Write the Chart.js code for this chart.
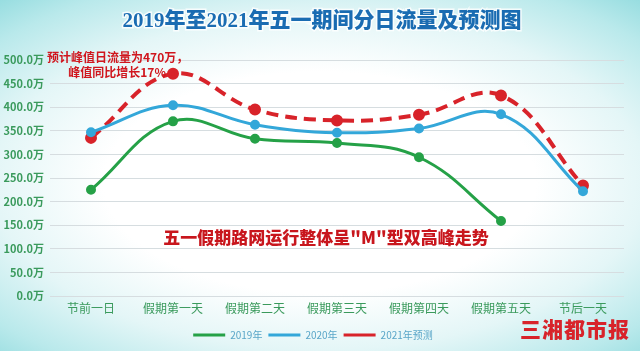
<!DOCTYPE html>
<html>
<head>
<meta charset="utf-8">
<script src="https://cdn.jsdelivr.net/npm/chart.js@4.4.1/dist/chart.umd.min.js"></script>
<style>
  html, body { margin: 0; padding: 0; }
  body {
    width: 640px; height: 351px; overflow: hidden; position: relative;
    background: radial-gradient(ellipse 75% 70% at 50% 52%, #ffffff 0%, #ffffff 45%, #e4f6f7 68%, #b9e9eb 88%, #97dde0 100%);
  }
  #wrap { position: absolute; left: 0; top: 0; width: 640px; height: 351px; }
  .logo {
    position: absolute; left: 520px; top: 318px;
    font-family: "Noto Sans CJK SC", sans-serif; font-weight: 900;
    font-size: 21px; color: #d8232a; letter-spacing: 1px; line-height: 1;
  }
</style>
</head>
<body>
<div id="wrap"><canvas id="chart" width="640" height="351"></canvas></div>
<div class="logo">三湘都市报</div>
<script>
// 2019-2021 May Day daily traffic (万)
const DAYS = ['节前一日','假期第一天','假期第二天','假期第三天','假期第四天','假期第五天','节后一天'];
const Y2019 = [225, 370, 333, 324, 294, 159, null];
const Y2020 = [347, 404, 363, 346, 355, 385, 222];
const Y2021 = [335, 471, 395, 372, 384, 425, 234];

const TITLE = '2019年至2021年五一期间分日流量及预测图';
const NOTE_1 = '预计峰值日流量为470万，';
const NOTE_2 = '峰值同比增长17%';
const NOTE_BIG = '五一假期路网运行整体呈"M"型双高峰走势';

const GREEN = '#25a147';
const BLUE  = '#33a7d9';
const RED   = '#d8232a';
const TICK  = '#3a9a5c';
const CJK   = '"Noto Sans CJK SC", sans-serif';

// red annotations over the plot
const notesPlugin = {
  id: 'notes',
  afterDatasetsDraw(chart) {
    const ctx = chart.ctx;
    ctx.save();
    ctx.fillStyle = '#d0161e';
    ctx.textBaseline = 'middle';
    ctx.font = `bold 12px ${CJK}`;
    ctx.textAlign = 'left';
    ctx.fillText(NOTE_1, 47, 57);
    ctx.textAlign = 'right';
    ctx.fillText(NOTE_2, 166, 72);
    ctx.font = `900 17px ${CJK}`;
    ctx.textAlign = 'center';
    ctx.fillStyle = '#c8161d';
    ctx.fillText(NOTE_BIG, 326, 238);
    ctx.restore();
  }
};

// title with a soft white outline
const titlePlugin = {
  id: 'bigTitle',
  afterDraw(chart) {
    const ctx = chart.ctx;
    ctx.save();
    ctx.font = `900 21px "Liberation Serif", ${CJK}`;
    ctx.textAlign = 'center';
    ctx.textBaseline = 'middle';
    ctx.lineWidth = 3;
    ctx.strokeStyle = 'rgba(255,255,255,0.8)';
    ctx.strokeText(TITLE, 322, 22);
    ctx.fillStyle = '#1a6cb2';
    ctx.fillText(TITLE, 322, 22);
    ctx.restore();
  }
};

new Chart(document.getElementById('chart'), {
  type: 'line',
  data: {
    labels: DAYS,
    datasets: [
      { label: '2019年', data: Y2019, borderColor: GREEN, backgroundColor: GREEN, borderWidth: 3, pointRadius: 3.5, tension: 0.4 },
      { label: '2020年', data: Y2020, borderColor: BLUE, backgroundColor: BLUE, borderWidth: 3, pointRadius: 3.5, tension: 0.4 },
      { label: '2021年预测', data: Y2021, borderColor: RED, backgroundColor: RED, borderWidth: 4, borderDash: [12, 7], pointRadius: 4, tension: 0.4 }
    ]
  },
  options: {
    responsive: false,
    animation: false,
    layout: { padding: { top: 60, right: 16, left: 2, bottom: 1 } },
    plugins: {
      title: { display: false },
      tooltip: { enabled: false },
      legend: {
        position: 'bottom',
        labels: {
          color: '#5aa6c8',
          font: { family: CJK, size: 10 },
          boxWidth: 32, boxHeight: 3, padding: 6,
          generateLabels(chart) {
            return chart.data.datasets.map((ds, i) => ({
              text: ds.label,
              fillStyle: ds.borderColor,
              strokeStyle: ds.borderColor,
              fontColor: '#5aa6c8',
              lineWidth: 0,
              datasetIndex: i
            }));
          }
        }
      }
    },
    scales: {
      x: {
        offset: true,
        grid: { display: false, drawTicks: false },
        border: { display: false },
        ticks: { color: TICK, font: { family: CJK, size: 12 }, padding: 5 },
        afterFit(scale) { scale.height = 28; }
      },
      y: {
        min: 0, max: 500,
        grid: { color: '#d6dde0', lineWidth: 1, drawTicks: false },
        border: { display: false },
        ticks: {
          stepSize: 50, color: TICK, padding: 6,
          font: { family: CJK, size: 11, weight: 'bold' },
          callback: v => v.toFixed(1) + '万'
        },
        afterFit(scale) { scale.width = 48; }
      }
    }
  },
  plugins: [notesPlugin, titlePlugin]
});
</script>
</body>
</html>
